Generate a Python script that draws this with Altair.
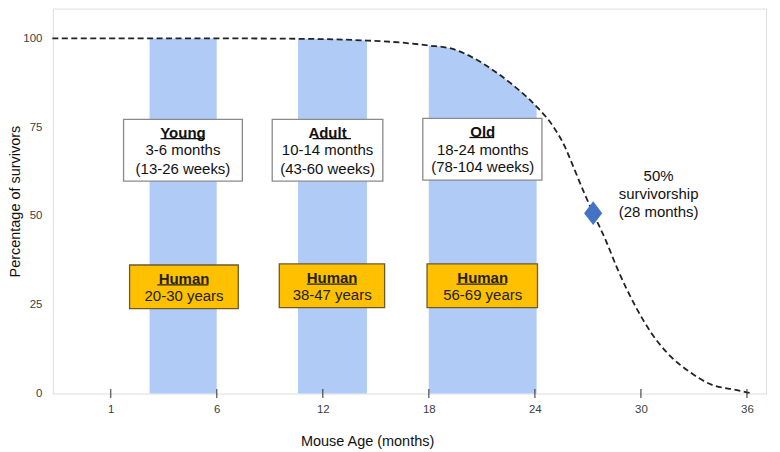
import altair as alt
import pandas as pd

# ---- data ----
curve_x = [-3.3, 0, 2.2, 6, 10.6, 12, 14.5, 16.5, 18, 19.3, 20.6, 21.8, 22.9, 24.1,
           25.0, 25.7, 26.1, 26.8, 27.3, 28.0, 28.7, 29.7, 30.6, 31.5, 32.7, 34.0, 35.3, 36.3]
curve_y = [100, 100, 100, 100, 99.9, 99.8, 99.4, 98.8, 98.0, 97.1, 94.3, 90.5, 86.3, 80.8,
           75.5, 69.5, 64.8, 56.4, 50.8, 43.3, 34.8, 24.5, 17.0, 11.4, 6.3, 2.5, 1.1, 0]

band_names = ["Young", "Adult", "Old"]
band_start = [2.2, 10.6, 18.0]
band_end = [6.0, 14.5, 24.1]

box_titles = ["Young", "Adult", "Old"]
box_line1 = ["3-6 months", "10-14 months", "18-24 months"]
box_line2 = ["(13-26 weeks)", "(43-60 weeks)", "(78-104 weeks)"]
box_x1 = [0.73, 9.14, 17.66]
box_x2 = [7.45, 15.4, 24.4]
box_y1 = [59.8, 59.8, 60.1]
box_y2 = [77.2, 77.2, 77.5]
box_cx = [4.09, 12.27, 21.05]
box_title_y = [73.4, 73.4, 73.7]
box_l1_y = [68.5, 68.5, 68.7]
box_l2_y = [63.2, 63.2, 63.7]
box_ul_x1 = [2.82, 11.42, 20.3]
box_ul_x2 = [5.34, 13.6, 21.7]
box_ul_y = [71.8, 71.8, 72.1]

human_titles = ["Human", "Human", "Human"]
human_years = ["20-30 years", "38-47 years", "56-69 years"]
human_x1 = [1.07, 9.54, 17.9]
human_x2 = [7.22, 15.5, 24.15]
human_y1 = [23.9, 24.2, 24.2]
human_y2 = [36.2, 36.5, 36.5]
human_cx = [4.15, 12.53, 21.05]
human_title_y = [32.3, 32.5, 32.5]
human_body_y = [27.5, 27.7, 27.7]
human_ul_x1 = [2.64, 11.1, 19.57]
human_ul_x2 = [5.53, 13.94, 22.4]
human_ul_y = [30.6, 30.8, 30.8]

marker_x = [27.3]
marker_y = [50.8]
note_lines = ["50%", "survivorship", "(28 months)"]
note_x = [31.0, 31.0, 31.0]
note_y = [61.3, 56.2, 51.2]

tick_values = [0, 6, 12, 18, 24, 30, 36]
tick_labels = ["1", "6", "12", "18", "24", "30", "36"]
y_ticks = [0, 25, 50, 75, 100]

# ---- tables ----
curve = pd.DataFrame({"x": curve_x, "y": curve_y})
band_rows = []
for name, s, e in zip(band_names, band_start, band_end):
    for cx, cy in zip(curve_x, curve_y):
        if s - 1e-9 <= cx <= e + 1e-9:
            band_rows.append({"band": name, "x": cx, "y": cy})
bands = pd.DataFrame(band_rows)

boxes = pd.DataFrame({"x1": box_x1, "x2": box_x2, "y1": box_y1, "y2": box_y2,
                      "cx": box_cx, "ty": box_title_y, "l1y": box_l1_y, "l2y": box_l2_y,
                      "title": box_titles, "l1": box_line1, "l2": box_line2,
                      "u1": box_ul_x1, "u2": box_ul_x2, "uy": box_ul_y})
humans = pd.DataFrame({"x1": human_x1, "x2": human_x2, "y1": human_y1, "y2": human_y2,
                       "cx": human_cx, "ty": human_title_y, "by": human_body_y,
                       "title": human_titles, "body": human_years,
                       "u1": human_ul_x1, "u2": human_ul_x2, "uy": human_ul_y})
marker = pd.DataFrame({"x": marker_x, "y": marker_y})
note = pd.DataFrame({"x": note_x, "y": note_y, "t": note_lines})
ticks = pd.DataFrame({"x": tick_values, "y": [0] * len(tick_values)})

label_map = "{" + ",".join(f"'{v}':'{l}'" for v, l in zip(tick_values, tick_labels)) + "}"

FONT = "Liberation Sans"
FS = 15
xs = alt.Scale(domain=[-3.27, 37.08], nice=False, zero=False)
ys = alt.Scale(domain=[0, 108.4], nice=False)
xaxis = alt.Axis(values=tick_values, labelExpr=f"{label_map}[datum.value]",
                 ticks=False, domain=False, grid=False, labelPadding=10,
                 labelFontSize=11.5, labelColor="#404040", labelFont=FONT,
                 title="Mouse Age (months)", titleFont=FONT, titleFontSize=14.5,
                 titleFontWeight="normal", titleColor="#111",
                 titleX=315, titleY=48, titleBaseline="middle", titleAnchor="start",
                 titleAlign="center")
yaxis = alt.Axis(values=y_ticks, ticks=False, domain=False, grid=False,
                 labelPadding=11, labelFontSize=11.5, labelColor="#404040", labelFont=FONT,
                 title="Percentage of survivors", titleFont=FONT, titleFontSize=14.5,
                 titleFontWeight="normal", titleColor="#111",
                 titleX=-30, titleY=193, titleAlign="center", titleAnchor="start")


def X(f):
    return alt.X(f, type="quantitative", scale=xs, axis=xaxis)


def Y(f, **kw):
    return alt.Y(f, type="quantitative", scale=ys, axis=yaxis, **kw)


band_layer = alt.Chart(bands).mark_area(color="#B0CBF5", interpolate="monotone", opacity=1).encode(
    x=X("x"), y=Y("y", stack=None), detail="band:N")

line_layer = alt.Chart(curve).mark_line(color="#222222", strokeDash=[6, 3.5], strokeWidth=1.8,
                                        interpolate="monotone").encode(x=X("x"), y=Y("y"))

tick_layer = alt.Chart(ticks).mark_tick(orient="vertical", size=9, thickness=1.5, color="#333333").encode(
    x=X("x"), y=Y("y"))

box_layer = alt.Chart(boxes).mark_rect(fill="white", stroke="#8a8a8a", strokeWidth=1.3).encode(
    x=X("x1"), x2="x2", y=Y("y1"), y2="y2")
box_title = alt.Chart(boxes).mark_text(font=FONT, fontSize=FS, fontWeight="bold", color="#111",
                                       baseline="middle").encode(x=X("cx"), y=Y("ty"), text="title")
box_l1 = alt.Chart(boxes).mark_text(font=FONT, fontSize=FS, color="#111", baseline="middle").encode(
    x=X("cx"), y=Y("l1y"), text="l1")
box_l2 = alt.Chart(boxes).mark_text(font=FONT, fontSize=FS, color="#111", baseline="middle").encode(
    x=X("cx"), y=Y("l2y"), text="l2")
box_ul = alt.Chart(boxes).mark_rule(color="#111", strokeWidth=1.3).encode(
    x=X("u1"), x2="u2", y=Y("uy"))

human_layer = alt.Chart(humans).mark_rect(fill="#FFC000", stroke="#6b5a2a", strokeWidth=1.3).encode(
    x=X("x1"), x2="x2", y=Y("y1"), y2="y2")
human_title = alt.Chart(humans).mark_text(font=FONT, fontSize=FS, fontWeight="bold", color="#222",
                                          baseline="middle").encode(x=X("cx"), y=Y("ty"), text="title")
human_body = alt.Chart(humans).mark_text(font=FONT, fontSize=FS, color="#222",
                                         baseline="middle").encode(x=X("cx"), y=Y("by"), text="body")
human_ul = alt.Chart(humans).mark_rule(color="#222", strokeWidth=1.3).encode(
    x=X("u1"), x2="u2", y=Y("uy"))

marker_layer = alt.Chart(marker).mark_point(shape="M0,-1.3L1,0L0,1.3L-1,0Z", filled=True,
                                            color="#4472C4", size=330, opacity=1).encode(
    x=X("x"), y=Y("y"))
note_layer = alt.Chart(note).mark_text(font=FONT, fontSize=FS, color="#111", baseline="middle").encode(
    x=X("x"), y=Y("y"), text="t")

chart = alt.layer(
    band_layer, line_layer, tick_layer,
    box_layer, box_ul, box_title, box_l1, box_l2,
    human_layer, human_ul, human_title, human_body,
    marker_layer, note_layer,
).properties(
    width=715, height=386,
    autosize=alt.AutoSizeParams(type="none"),
    padding={"left": 45, "top": 0, "right": 6, "bottom": 58},
).configure_view(stroke="#808080", strokeWidth=1.5).configure(background="white")

chart.save("out.html", embed_options={"renderer": "svg", "actions": False})
